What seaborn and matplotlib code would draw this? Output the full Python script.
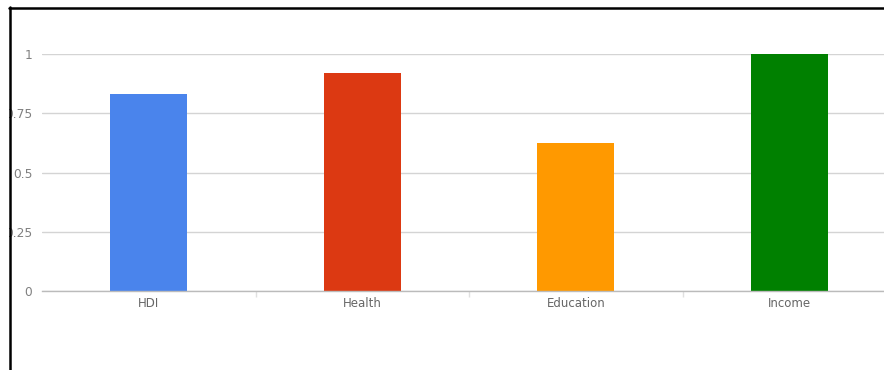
import matplotlib
matplotlib.use("Agg")
import matplotlib.pyplot as plt
import seaborn as sns
import pandas as pd
from matplotlib.lines import Line2D
from matplotlib.patches import Rectangle

categories = ["HDI", "Health", "Education", "Income"]
values = [0.83, 0.92, 0.625, 1.0]
colors = ["#4a84ec", "#dc3912", "#ff9900", "#008000"]
yticks = [0, 0.25, 0.5, 0.75, 1]
ytick_labels = ["0", "0.25", "0.5", "0.75", "1"]

sns.set_theme(style="white")
plt.rcParams["font.family"] = ["DejaVu Sans"]

W, H = 884, 370
fig = plt.figure(figsize=(W / 100, H / 100), dpi=100)
fig.patch.set_facecolor("white")

left, right, top, bottom = 42, 896, 54, 291
ax = fig.add_axes([left / W, 1 - bottom / H, (right - left) / W, (bottom - top) / H])

df = pd.DataFrame({"cat": categories, "val": values})
sns.barplot(data=df, x="cat", y="val", hue="cat", palette=colors, width=0.36,
            legend=False, ax=ax, saturation=1, edgecolor="none")

ax.set_ylim(0, 1)
ax.set_xlim(-0.5, 3.5)
ax.set_yticks(yticks)
ax.set_yticklabels(ytick_labels)
ax.set_xlabel("")
ax.set_ylabel("")
ax.grid(axis="y", color="#d4d4d4", linewidth=1)
ax.set_axisbelow(True)
for s in ["top", "right", "left"]:
    ax.spines[s].set_visible(False)
ax.spines["bottom"].set_color("#bbbbbb")
ax.spines["bottom"].set_linewidth(1)
ax.tick_params(axis="y", length=0, pad=7, labelsize=8.8, labelcolor="#808080")
ax.tick_params(axis="x", length=0, pad=4, labelsize=8.5, labelcolor="#666666")
ax.set_xticks([0.5, 1.5, 2.5], minor=True)
ax.tick_params(axis="x", which="minor", length=4, color="#e0e0e0", width=1, bottom=True)
ax.patch.set_alpha(0)

# frame border (black left/top edges as in the screenshot)
fig.add_artist(Rectangle((0, 0), 9 / W, 1, transform=fig.transFigure,
                         facecolor="white", edgecolor="none", zorder=10))
fig.add_artist(Rectangle((0, 1 - 7 / H), 1, 7 / H, transform=fig.transFigure,
                         facecolor="white", edgecolor="none", zorder=10))
fig.add_artist(Line2D([9.5 / W, 9.5 / W], [0, 1 - 7 / H], transform=fig.transFigure,
                      color="black", linewidth=1.8, zorder=11))
fig.add_artist(Line2D([8.5 / W, 1], [1 - 7.5 / H, 1 - 7.5 / H], transform=fig.transFigure,
                      color="black", linewidth=1.8, zorder=11))

fig.savefig("out.png", dpi=100)
